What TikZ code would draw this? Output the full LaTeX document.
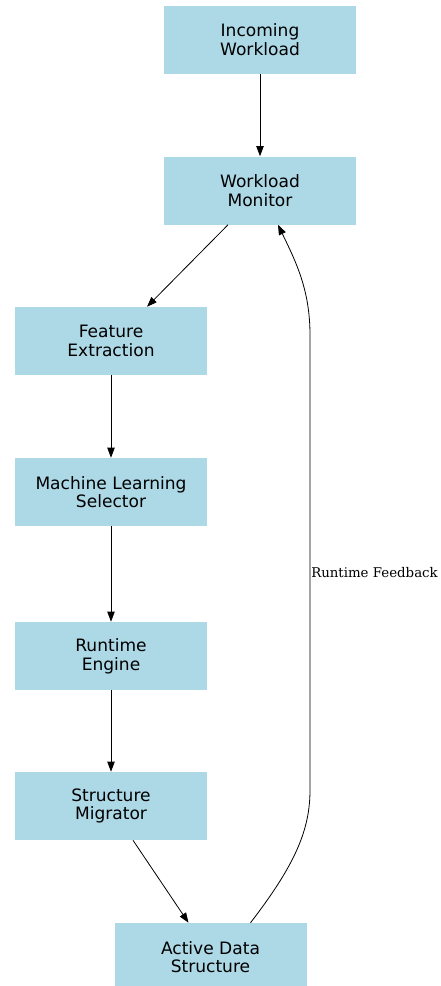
\documentclass[tikz,border=0pt]{standalone}
\usepackage{fontspec}
\setmainfont{DejaVu Sans}
\newfontfamily\lblfont{DejaVu Serif}
\usetikzlibrary{arrows.meta,calc}
\definecolor{boxblue}{RGB}{173,216,230}
\tikzset{
  x=0.75pt, y=-0.75pt,
  box/.style={fill=boxblue, draw=none, minimum width=144pt, minimum height=51pt,
    align=center, inner sep=0pt, font=\fontsize{12.8}{14}\selectfont},
  conn/.style={draw=black, line width=0.6pt, -{Triangle[length=7.5pt,width=5.5pt]}},
  lbl/.style={font=\lblfont\fontsize{10}{11}\selectfont, anchor=west, inner sep=0pt}
}
\begin{document}
\begin{tikzpicture}
\fill[white] (0,0) rectangle (440,986);
\useasboundingbox (0,0) rectangle (440,986);
\node[box] (inc) at (260,39.5) {Incoming\\Workload};
\node[box] (mon) at (260,190.5) {Workload\\Monitor};
\node[box] (fea) at (111,341) {Feature\\Extraction};
\node[box] (mls) at (111,492) {Machine Learning\\Selector};
\node[box] (rte) at (111,656) {Runtime\\Engine};
\node[box] (mig) at (111,806) {Structure\\Migrator};
\node[box] (act) at (210.5,957) {Active Data\\Structure};
\draw[conn] (inc.south) -- (mon.north);
\draw[conn] ($(mon.south)+(-32,0)$) -- ($(fea.north)+(36,0)$);
\draw[conn] (fea.south) -- (mls.north);
\draw[conn] (mls.south) -- (rte.north);
\draw[conn] (rte.south) -- (mig.north);
\draw[conn] ($(mig.south)+(22,0)$) -- ($(act.north)+(-22,0)$);
\coordinate (fb1) at (310,790);
\coordinate (fb2) at (310,335);
\draw[conn] ($(act.north)+(40,0)$) .. controls (295,865) and (310,830) .. (fb1)
  -- (fb2) .. controls (310,290) and (296,262) .. ($(mon.south)+(18,0)$);
\node[lbl] (fbl) at (311,573) {Runtime Feedback};
\end{tikzpicture}
\end{document}
